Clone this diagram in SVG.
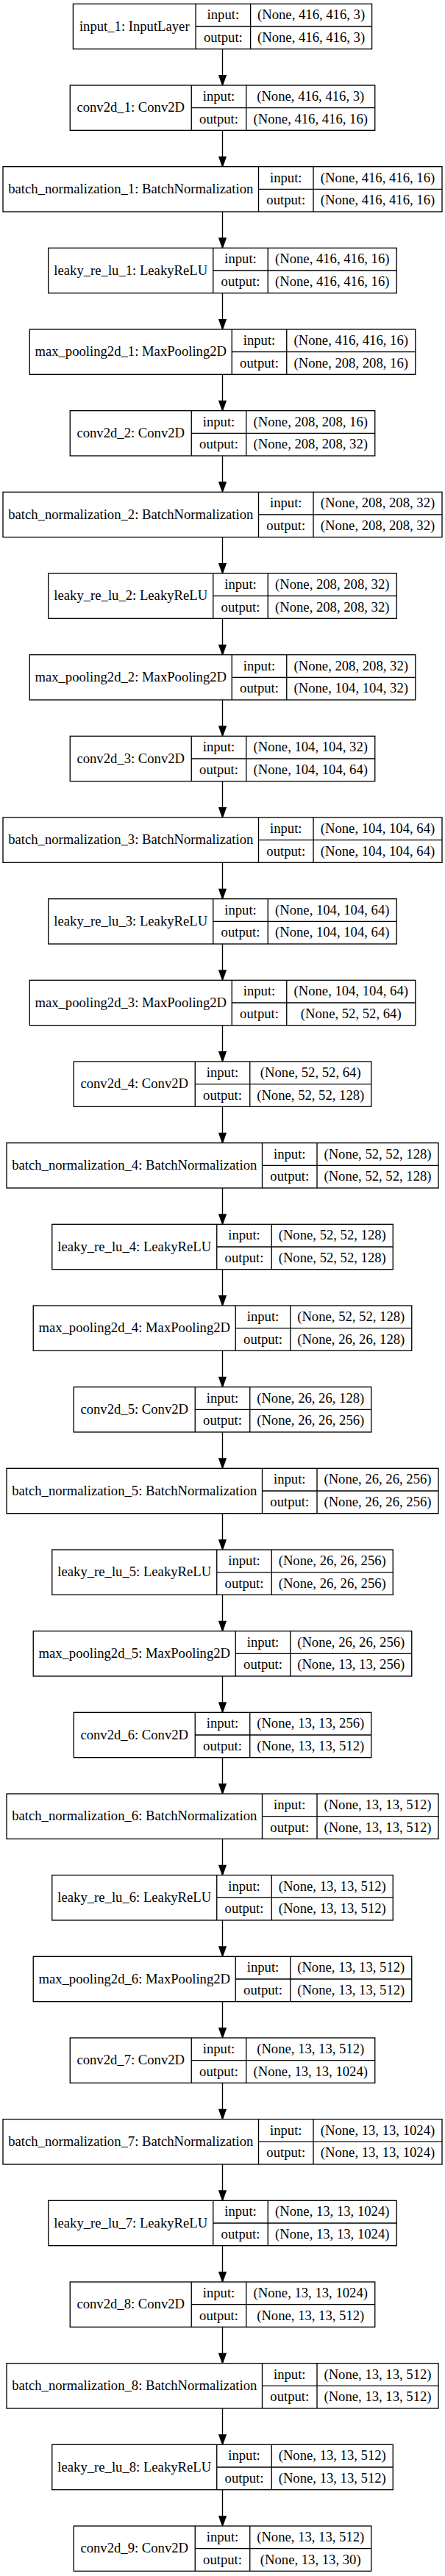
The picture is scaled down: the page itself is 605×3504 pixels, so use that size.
<svg xmlns="http://www.w3.org/2000/svg" width="605" height="3504" viewBox="0 0 605 3504">
<style>
.b{fill:#fff;stroke:#000;stroke-width:1.33}
.d{fill:none;stroke:#000;stroke-width:1.33}
.e{fill:none;stroke:#000;stroke-width:1.33}
text{font-family:"Liberation Serif","Times New Roman",serif;font-size:18.67px;text-anchor:middle;fill:#000}
</style>
<defs>
<marker id="ah" markerUnits="userSpaceOnUse" markerWidth="16" markerHeight="12" refX="0" refY="0" orient="auto" overflow="visible">
<path d="M0,-4.67L13.33,0L0,4.67z" fill="#000" stroke="#000" stroke-width="1.33"/>
</marker>
</defs>
<rect width="605" height="3504" fill="#fff"/>
<g id="edges">
<path class="e" marker-end="url(#ah)" d="M302.5 66.67V102.67"/>
<path class="e" marker-end="url(#ah)" d="M302.5 177.33V213.33"/>
<path class="e" marker-end="url(#ah)" d="M302.5 288V324"/>
<path class="e" marker-end="url(#ah)" d="M302.5 398.67V434.67"/>
<path class="e" marker-end="url(#ah)" d="M302.5 509.33V545.33"/>
<path class="e" marker-end="url(#ah)" d="M302.5 620V656"/>
<path class="e" marker-end="url(#ah)" d="M302.5 730.67V766.67"/>
<path class="e" marker-end="url(#ah)" d="M302.5 841.33V877.33"/>
<path class="e" marker-end="url(#ah)" d="M302.5 952V988"/>
<path class="e" marker-end="url(#ah)" d="M302.5 1062.67V1098.67"/>
<path class="e" marker-end="url(#ah)" d="M302.5 1173.33V1209.33"/>
<path class="e" marker-end="url(#ah)" d="M302.5 1284V1320"/>
<path class="e" marker-end="url(#ah)" d="M302.5 1394.67V1430.67"/>
<path class="e" marker-end="url(#ah)" d="M302.5 1505.33V1541.33"/>
<path class="e" marker-end="url(#ah)" d="M302.5 1616V1652"/>
<path class="e" marker-end="url(#ah)" d="M302.5 1726.67V1762.67"/>
<path class="e" marker-end="url(#ah)" d="M302.5 1837.33V1873.33"/>
<path class="e" marker-end="url(#ah)" d="M302.5 1948V1984"/>
<path class="e" marker-end="url(#ah)" d="M302.5 2058.67V2094.67"/>
<path class="e" marker-end="url(#ah)" d="M302.5 2169.33V2205.33"/>
<path class="e" marker-end="url(#ah)" d="M302.5 2280V2316"/>
<path class="e" marker-end="url(#ah)" d="M302.5 2390.67V2426.67"/>
<path class="e" marker-end="url(#ah)" d="M302.5 2501.33V2537.33"/>
<path class="e" marker-end="url(#ah)" d="M302.5 2612V2648"/>
<path class="e" marker-end="url(#ah)" d="M302.5 2722.67V2758.67"/>
<path class="e" marker-end="url(#ah)" d="M302.5 2833.33V2869.33"/>
<path class="e" marker-end="url(#ah)" d="M302.5 2944V2980"/>
<path class="e" marker-end="url(#ah)" d="M302.5 3054.67V3090.67"/>
<path class="e" marker-end="url(#ah)" d="M302.5 3165.33V3201.33"/>
<path class="e" marker-end="url(#ah)" d="M302.5 3276V3312"/>
<path class="e" marker-end="url(#ah)" d="M302.5 3386.67V3422.67"/>
</g>

<g id="n0" transform="translate(0,5.33)">
<rect class="b" x="99.4" y="0" width="406.2" height="61.33"/>
<path class="d" d="M266.1 0V61.33M340.6 0V61.33M266.1 30.67H505.6"/>
<text x="182.75" y="36.3">input_1: InputLayer</text>
<text x="303.35" y="20.9">input:</text><text x="303.35" y="51.6">output:</text>
<text x="423.1" y="20.9">(None, 416, 416, 3)</text><text x="423.1" y="51.6">(None, 416, 416, 3)</text>
</g>

<g id="n1" transform="translate(0,116)">
<rect class="b" x="95.25" y="0" width="414.5" height="61.33"/>
<path class="d" d="M260.25 0V61.33M334.75 0V61.33M260.25 30.67H509.75"/>
<text x="177.75" y="36.3">conv2d_1: Conv2D</text>
<text x="297.5" y="20.9">input:</text><text x="297.5" y="51.6">output:</text>
<text x="422.25" y="20.9">(None, 416, 416, 3)</text><text x="422.25" y="51.6">(None, 416, 416, 16)</text>
</g>

<g id="n2" transform="translate(0,226.67)">
<rect class="b" x="4" y="0" width="597" height="61.33"/>
<path class="d" d="M351.5 0V61.33M426 0V61.33M351.5 30.67H601"/>
<text x="177.75" y="36.3">batch_normalization_1: BatchNormalization</text>
<text x="388.75" y="20.9">input:</text><text x="388.75" y="51.6">output:</text>
<text x="513.5" y="20.9">(None, 416, 416, 16)</text><text x="513.5" y="51.6">(None, 416, 416, 16)</text>
</g>

<g id="n3" transform="translate(0,337.33)">
<rect class="b" x="65.75" y="0" width="473.5" height="61.33"/>
<path class="d" d="M289.75 0V61.33M364.25 0V61.33M289.75 30.67H539.25"/>
<text x="177.75" y="36.3">leaky_re_lu_1: LeakyReLU</text>
<text x="327" y="20.9">input:</text><text x="327" y="51.6">output:</text>
<text x="451.75" y="20.9">(None, 416, 416, 16)</text><text x="451.75" y="51.6">(None, 416, 416, 16)</text>
</g>

<g id="n4" transform="translate(0,448)">
<rect class="b" x="40.25" y="0" width="524.5" height="61.33"/>
<path class="d" d="M315.25 0V61.33M389.75 0V61.33M315.25 30.67H564.75"/>
<text x="177.75" y="36.3">max_pooling2d_1: MaxPooling2D</text>
<text x="352.5" y="20.9">input:</text><text x="352.5" y="51.6">output:</text>
<text x="477.25" y="20.9">(None, 416, 416, 16)</text><text x="477.25" y="51.6">(None, 208, 208, 16)</text>
</g>

<g id="n5" transform="translate(0,558.67)">
<rect class="b" x="95.25" y="0" width="414.5" height="61.33"/>
<path class="d" d="M260.25 0V61.33M334.75 0V61.33M260.25 30.67H509.75"/>
<text x="177.75" y="36.3">conv2d_2: Conv2D</text>
<text x="297.5" y="20.9">input:</text><text x="297.5" y="51.6">output:</text>
<text x="422.25" y="20.9">(None, 208, 208, 16)</text><text x="422.25" y="51.6">(None, 208, 208, 32)</text>
</g>

<g id="n6" transform="translate(0,669.33)">
<rect class="b" x="4" y="0" width="597" height="61.33"/>
<path class="d" d="M351.5 0V61.33M426 0V61.33M351.5 30.67H601"/>
<text x="177.75" y="36.3">batch_normalization_2: BatchNormalization</text>
<text x="388.75" y="20.9">input:</text><text x="388.75" y="51.6">output:</text>
<text x="513.5" y="20.9">(None, 208, 208, 32)</text><text x="513.5" y="51.6">(None, 208, 208, 32)</text>
</g>

<g id="n7" transform="translate(0,780)">
<rect class="b" x="65.75" y="0" width="473.5" height="61.33"/>
<path class="d" d="M289.75 0V61.33M364.25 0V61.33M289.75 30.67H539.25"/>
<text x="177.75" y="36.3">leaky_re_lu_2: LeakyReLU</text>
<text x="327" y="20.9">input:</text><text x="327" y="51.6">output:</text>
<text x="451.75" y="20.9">(None, 208, 208, 32)</text><text x="451.75" y="51.6">(None, 208, 208, 32)</text>
</g>

<g id="n8" transform="translate(0,890.67)">
<rect class="b" x="40.25" y="0" width="524.5" height="61.33"/>
<path class="d" d="M315.25 0V61.33M389.75 0V61.33M315.25 30.67H564.75"/>
<text x="177.75" y="36.3">max_pooling2d_2: MaxPooling2D</text>
<text x="352.5" y="20.9">input:</text><text x="352.5" y="51.6">output:</text>
<text x="477.25" y="20.9">(None, 208, 208, 32)</text><text x="477.25" y="51.6">(None, 104, 104, 32)</text>
</g>

<g id="n9" transform="translate(0,1001.33)">
<rect class="b" x="95.25" y="0" width="414.5" height="61.33"/>
<path class="d" d="M260.25 0V61.33M334.75 0V61.33M260.25 30.67H509.75"/>
<text x="177.75" y="36.3">conv2d_3: Conv2D</text>
<text x="297.5" y="20.9">input:</text><text x="297.5" y="51.6">output:</text>
<text x="422.25" y="20.9">(None, 104, 104, 32)</text><text x="422.25" y="51.6">(None, 104, 104, 64)</text>
</g>

<g id="n10" transform="translate(0,1112)">
<rect class="b" x="4" y="0" width="597" height="61.33"/>
<path class="d" d="M351.5 0V61.33M426 0V61.33M351.5 30.67H601"/>
<text x="177.75" y="36.3">batch_normalization_3: BatchNormalization</text>
<text x="388.75" y="20.9">input:</text><text x="388.75" y="51.6">output:</text>
<text x="513.5" y="20.9">(None, 104, 104, 64)</text><text x="513.5" y="51.6">(None, 104, 104, 64)</text>
</g>

<g id="n11" transform="translate(0,1222.67)">
<rect class="b" x="65.75" y="0" width="473.5" height="61.33"/>
<path class="d" d="M289.75 0V61.33M364.25 0V61.33M289.75 30.67H539.25"/>
<text x="177.75" y="36.3">leaky_re_lu_3: LeakyReLU</text>
<text x="327" y="20.9">input:</text><text x="327" y="51.6">output:</text>
<text x="451.75" y="20.9">(None, 104, 104, 64)</text><text x="451.75" y="51.6">(None, 104, 104, 64)</text>
</g>

<g id="n12" transform="translate(0,1333.33)">
<rect class="b" x="40.25" y="0" width="524.5" height="61.33"/>
<path class="d" d="M315.25 0V61.33M389.75 0V61.33M315.25 30.67H564.75"/>
<text x="177.75" y="36.3">max_pooling2d_3: MaxPooling2D</text>
<text x="352.5" y="20.9">input:</text><text x="352.5" y="51.6">output:</text>
<text x="477.25" y="20.9">(None, 104, 104, 64)</text><text x="477.25" y="51.6">(None, 52, 52, 64)</text>
</g>

<g id="n13" transform="translate(0,1444)">
<rect class="b" x="100.25" y="0" width="404.5" height="61.33"/>
<path class="d" d="M265.25 0V61.33M339.75 0V61.33M265.25 30.67H504.75"/>
<text x="182.75" y="36.3">conv2d_4: Conv2D</text>
<text x="302.5" y="20.9">input:</text><text x="302.5" y="51.6">output:</text>
<text x="422.25" y="20.9">(None, 52, 52, 64)</text><text x="422.25" y="51.6">(None, 52, 52, 128)</text>
</g>

<g id="n14" transform="translate(0,1554.67)">
<rect class="b" x="9" y="0" width="587" height="61.33"/>
<path class="d" d="M356.5 0V61.33M431 0V61.33M356.5 30.67H596"/>
<text x="182.75" y="36.3">batch_normalization_4: BatchNormalization</text>
<text x="393.75" y="20.9">input:</text><text x="393.75" y="51.6">output:</text>
<text x="513.5" y="20.9">(None, 52, 52, 128)</text><text x="513.5" y="51.6">(None, 52, 52, 128)</text>
</g>

<g id="n15" transform="translate(0,1665.33)">
<rect class="b" x="70.75" y="0" width="463.5" height="61.33"/>
<path class="d" d="M294.75 0V61.33M369.25 0V61.33M294.75 30.67H534.25"/>
<text x="182.75" y="36.3">leaky_re_lu_4: LeakyReLU</text>
<text x="332" y="20.9">input:</text><text x="332" y="51.6">output:</text>
<text x="451.75" y="20.9">(None, 52, 52, 128)</text><text x="451.75" y="51.6">(None, 52, 52, 128)</text>
</g>

<g id="n16" transform="translate(0,1776)">
<rect class="b" x="45.25" y="0" width="514.5" height="61.33"/>
<path class="d" d="M320.25 0V61.33M394.75 0V61.33M320.25 30.67H559.75"/>
<text x="182.75" y="36.3">max_pooling2d_4: MaxPooling2D</text>
<text x="357.5" y="20.9">input:</text><text x="357.5" y="51.6">output:</text>
<text x="477.25" y="20.9">(None, 52, 52, 128)</text><text x="477.25" y="51.6">(None, 26, 26, 128)</text>
</g>

<g id="n17" transform="translate(0,1886.67)">
<rect class="b" x="100.25" y="0" width="404.5" height="61.33"/>
<path class="d" d="M265.25 0V61.33M339.75 0V61.33M265.25 30.67H504.75"/>
<text x="182.75" y="36.3">conv2d_5: Conv2D</text>
<text x="302.5" y="20.9">input:</text><text x="302.5" y="51.6">output:</text>
<text x="422.25" y="20.9">(None, 26, 26, 128)</text><text x="422.25" y="51.6">(None, 26, 26, 256)</text>
</g>

<g id="n18" transform="translate(0,1997.33)">
<rect class="b" x="9" y="0" width="587" height="61.33"/>
<path class="d" d="M356.5 0V61.33M431 0V61.33M356.5 30.67H596"/>
<text x="182.75" y="36.3">batch_normalization_5: BatchNormalization</text>
<text x="393.75" y="20.9">input:</text><text x="393.75" y="51.6">output:</text>
<text x="513.5" y="20.9">(None, 26, 26, 256)</text><text x="513.5" y="51.6">(None, 26, 26, 256)</text>
</g>

<g id="n19" transform="translate(0,2108)">
<rect class="b" x="70.75" y="0" width="463.5" height="61.33"/>
<path class="d" d="M294.75 0V61.33M369.25 0V61.33M294.75 30.67H534.25"/>
<text x="182.75" y="36.3">leaky_re_lu_5: LeakyReLU</text>
<text x="332" y="20.9">input:</text><text x="332" y="51.6">output:</text>
<text x="451.75" y="20.9">(None, 26, 26, 256)</text><text x="451.75" y="51.6">(None, 26, 26, 256)</text>
</g>

<g id="n20" transform="translate(0,2218.67)">
<rect class="b" x="45.25" y="0" width="514.5" height="61.33"/>
<path class="d" d="M320.25 0V61.33M394.75 0V61.33M320.25 30.67H559.75"/>
<text x="182.75" y="36.3">max_pooling2d_5: MaxPooling2D</text>
<text x="357.5" y="20.9">input:</text><text x="357.5" y="51.6">output:</text>
<text x="477.25" y="20.9">(None, 26, 26, 256)</text><text x="477.25" y="51.6">(None, 13, 13, 256)</text>
</g>

<g id="n21" transform="translate(0,2329.33)">
<rect class="b" x="100.25" y="0" width="404.5" height="61.33"/>
<path class="d" d="M265.25 0V61.33M339.75 0V61.33M265.25 30.67H504.75"/>
<text x="182.75" y="36.3">conv2d_6: Conv2D</text>
<text x="302.5" y="20.9">input:</text><text x="302.5" y="51.6">output:</text>
<text x="422.25" y="20.9">(None, 13, 13, 256)</text><text x="422.25" y="51.6">(None, 13, 13, 512)</text>
</g>

<g id="n22" transform="translate(0,2440)">
<rect class="b" x="9" y="0" width="587" height="61.33"/>
<path class="d" d="M356.5 0V61.33M431 0V61.33M356.5 30.67H596"/>
<text x="182.75" y="36.3">batch_normalization_6: BatchNormalization</text>
<text x="393.75" y="20.9">input:</text><text x="393.75" y="51.6">output:</text>
<text x="513.5" y="20.9">(None, 13, 13, 512)</text><text x="513.5" y="51.6">(None, 13, 13, 512)</text>
</g>

<g id="n23" transform="translate(0,2550.67)">
<rect class="b" x="70.75" y="0" width="463.5" height="61.33"/>
<path class="d" d="M294.75 0V61.33M369.25 0V61.33M294.75 30.67H534.25"/>
<text x="182.75" y="36.3">leaky_re_lu_6: LeakyReLU</text>
<text x="332" y="20.9">input:</text><text x="332" y="51.6">output:</text>
<text x="451.75" y="20.9">(None, 13, 13, 512)</text><text x="451.75" y="51.6">(None, 13, 13, 512)</text>
</g>

<g id="n24" transform="translate(0,2661.33)">
<rect class="b" x="45.25" y="0" width="514.5" height="61.33"/>
<path class="d" d="M320.25 0V61.33M394.75 0V61.33M320.25 30.67H559.75"/>
<text x="182.75" y="36.3">max_pooling2d_6: MaxPooling2D</text>
<text x="357.5" y="20.9">input:</text><text x="357.5" y="51.6">output:</text>
<text x="477.25" y="20.9">(None, 13, 13, 512)</text><text x="477.25" y="51.6">(None, 13, 13, 512)</text>
</g>

<g id="n25" transform="translate(0,2772)">
<rect class="b" x="95.25" y="0" width="414.5" height="61.33"/>
<path class="d" d="M260.25 0V61.33M334.75 0V61.33M260.25 30.67H509.75"/>
<text x="177.75" y="36.3">conv2d_7: Conv2D</text>
<text x="297.5" y="20.9">input:</text><text x="297.5" y="51.6">output:</text>
<text x="422.25" y="20.9">(None, 13, 13, 512)</text><text x="422.25" y="51.6">(None, 13, 13, 1024)</text>
</g>

<g id="n26" transform="translate(0,2882.67)">
<rect class="b" x="4" y="0" width="597" height="61.33"/>
<path class="d" d="M351.5 0V61.33M426 0V61.33M351.5 30.67H601"/>
<text x="177.75" y="36.3">batch_normalization_7: BatchNormalization</text>
<text x="388.75" y="20.9">input:</text><text x="388.75" y="51.6">output:</text>
<text x="513.5" y="20.9">(None, 13, 13, 1024)</text><text x="513.5" y="51.6">(None, 13, 13, 1024)</text>
</g>

<g id="n27" transform="translate(0,2993.33)">
<rect class="b" x="65.75" y="0" width="473.5" height="61.33"/>
<path class="d" d="M289.75 0V61.33M364.25 0V61.33M289.75 30.67H539.25"/>
<text x="177.75" y="36.3">leaky_re_lu_7: LeakyReLU</text>
<text x="327" y="20.9">input:</text><text x="327" y="51.6">output:</text>
<text x="451.75" y="20.9">(None, 13, 13, 1024)</text><text x="451.75" y="51.6">(None, 13, 13, 1024)</text>
</g>

<g id="n28" transform="translate(0,3104)">
<rect class="b" x="95.25" y="0" width="414.5" height="61.33"/>
<path class="d" d="M260.25 0V61.33M334.75 0V61.33M260.25 30.67H509.75"/>
<text x="177.75" y="36.3">conv2d_8: Conv2D</text>
<text x="297.5" y="20.9">input:</text><text x="297.5" y="51.6">output:</text>
<text x="422.25" y="20.9">(None, 13, 13, 1024)</text><text x="422.25" y="51.6">(None, 13, 13, 512)</text>
</g>

<g id="n29" transform="translate(0,3214.67)">
<rect class="b" x="9" y="0" width="587" height="61.33"/>
<path class="d" d="M356.5 0V61.33M431 0V61.33M356.5 30.67H596"/>
<text x="182.75" y="36.3">batch_normalization_8: BatchNormalization</text>
<text x="393.75" y="20.9">input:</text><text x="393.75" y="51.6">output:</text>
<text x="513.5" y="20.9">(None, 13, 13, 512)</text><text x="513.5" y="51.6">(None, 13, 13, 512)</text>
</g>

<g id="n30" transform="translate(0,3325.33)">
<rect class="b" x="70.75" y="0" width="463.5" height="61.33"/>
<path class="d" d="M294.75 0V61.33M369.25 0V61.33M294.75 30.67H534.25"/>
<text x="182.75" y="36.3">leaky_re_lu_8: LeakyReLU</text>
<text x="332" y="20.9">input:</text><text x="332" y="51.6">output:</text>
<text x="451.75" y="20.9">(None, 13, 13, 512)</text><text x="451.75" y="51.6">(None, 13, 13, 512)</text>
</g>

<g id="n31" transform="translate(0,3436)">
<rect class="b" x="100.25" y="0" width="404.5" height="61.33"/>
<path class="d" d="M265.25 0V61.33M339.75 0V61.33M265.25 30.67H504.75"/>
<text x="182.75" y="36.3">conv2d_9: Conv2D</text>
<text x="302.5" y="20.9">input:</text><text x="302.5" y="51.6">output:</text>
<text x="422.25" y="20.9">(None, 13, 13, 512)</text><text x="422.25" y="51.6">(None, 13, 13, 30)</text>
</g>
</svg>
